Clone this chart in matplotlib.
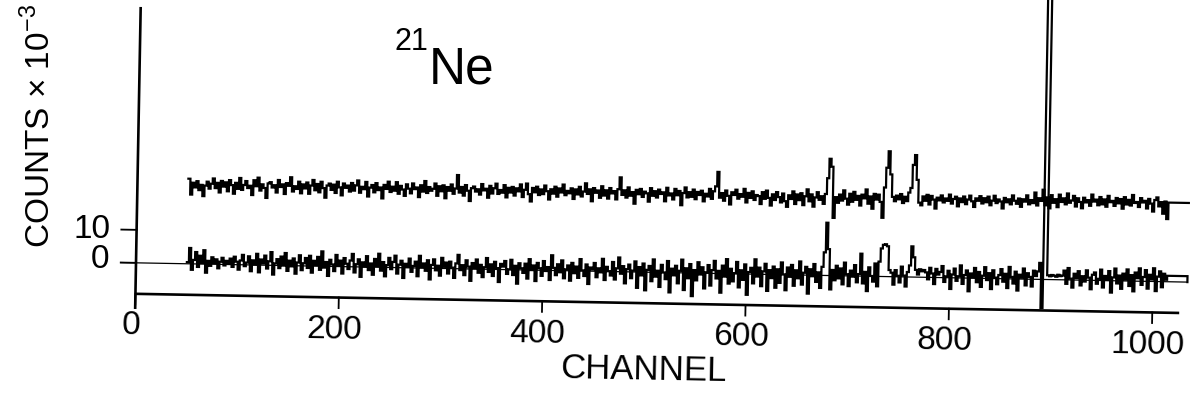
import numpy as np
import matplotlib
matplotlib.use("Agg")
import matplotlib.pyplot as plt
from matplotlib import transforms as mtransforms

plt.rcParams['font.family'] = ['Liberation Sans', 'DejaVu Sans']
plt.rcParams['mathtext.fontset'] = 'custom'
plt.rcParams['mathtext.rm'] = 'Liberation Sans'

# ---- spectrum data (counts x 10^-3, two channels per bin) ----
first_channel = 50
channel_step = 2

upper_counts = [
    25.8, 21.0, 24.6, 23.2, 25.1, 22.4, 24.0, 20.6, 23.8, 25.0,
    22.9, 24.4, 26.0, 23.1, 24.7, 21.8, 25.3, 23.6, 24.9, 22.2,
    25.6, 24.1, 21.5, 24.8, 23.0, 26.3, 22.7, 24.2, 25.4, 23.3,
    24.0, 21.2, 25.7, 23.9, 26.5, 22.6, 24.5, 23.4, 20.4, 24.8,
    25.2, 23.6, 24.3, 22.1, 25.9, 23.8, 24.6, 21.7, 25.0, 24.2,
    26.8, 22.5, 24.1, 23.3, 25.5, 22.0, 24.7, 23.5, 25.3, 21.9,
    24.4, 26.1, 23.0, 24.9, 22.4, 25.6, 23.7, 20.8, 24.5, 25.1,
    23.2, 24.8, 22.3, 25.7, 24.0, 21.6, 25.2, 23.9, 24.6, 22.8,
    25.4, 23.1, 24.7, 26.2, 22.5, 24.3, 23.6, 25.8, 21.4, 24.1,
    24.9, 22.7, 25.5, 23.4, 24.2, 20.9, 25.0, 23.8, 26.0, 22.9,
    24.5, 23.3, 25.9, 22.4, 24.8, 23.7, 21.8, 25.3, 24.0, 22.6,
    25.6, 23.9, 24.4, 21.5, 25.1, 23.2, 26.4, 22.8, 24.6, 23.5,
    24.1, 25.7, 22.0, 24.9, 23.4, 25.2, 21.3, 24.7, 23.6, 25.5,
    22.7, 24.3, 28.4, 23.1, 24.8, 22.2, 25.4, 23.7, 20.6, 24.5,
    25.0, 23.5, 24.2, 22.6, 25.8, 23.9, 24.4, 21.7, 25.3, 23.0,
    24.6, 26.0, 22.9, 24.1, 23.3, 25.6, 21.9, 24.8, 23.4, 25.1,
    22.5, 24.7, 23.8, 25.9, 22.1, 24.3, 26.2, 23.0, 20.8, 24.9,
    23.6, 25.3, 22.8, 24.5, 23.1, 25.7, 24.0, 21.5, 24.6, 23.3,
    25.4, 22.4, 24.9, 23.7, 26.1, 22.9, 24.2, 23.5, 25.0, 21.8,
    24.7, 23.2, 25.5, 22.6, 24.1, 26.6, 23.4, 24.8, 21.2, 25.2,
    23.8, 24.5, 22.3, 25.8, 23.0, 24.6, 22.1, 25.3, 23.7, 24.4,
    21.9, 25.0, 28.6, 23.3, 24.7, 22.5, 25.6, 23.1, 24.2, 20.7,
    24.9, 23.6, 25.2, 22.8, 24.4, 23.9, 21.4, 25.5, 23.2, 24.6,
    22.7, 25.1, 23.8, 24.3, 21.6, 25.7, 23.4, 24.0, 22.2, 25.4,
    23.5, 24.8, 20.5, 24.2, 25.9, 22.9, 24.5, 23.1, 25.3, 22.4,
    24.6, 23.7, 25.0, 21.8, 24.1, 23.3, 25.6, 22.6, 24.9, 26.4,
    30.8, 23.0, 24.4, 22.1, 25.2, 23.6, 21.0, 24.7, 23.9, 25.5,
    22.8, 24.2, 23.4, 25.8, 21.7, 24.6, 23.1, 25.1, 22.5, 24.0,
    23.7, 21.3, 24.9, 22.9, 25.4, 23.2, 20.9, 24.3, 22.6, 25.0,
    23.5, 21.9, 24.6, 22.3, 20.6, 24.1, 23.0, 25.3, 21.5, 24.4,
    22.7, 24.8, 21.2, 23.9, 26.0, 22.4, 24.5, 20.8, 23.6, 25.2,
    22.9, 24.0, 21.7, 24.7, 29.5, 35.4, 33.0, 17.5, 23.8, 22.1,
    24.6, 22.8, 25.9, 23.4, 21.6, 24.9, 22.5, 25.5, 23.1, 24.3,
    21.4, 24.7, 23.6, 26.3, 22.0, 24.2, 20.5, 25.0, 23.3, 24.8,
    22.6, 17.8, 27.0, 33.0, 38.0, 31.0, 24.2, 22.9, 24.6, 23.5,
    25.1, 22.4, 24.3, 23.0, 25.6, 27.0, 34.0, 37.0, 29.5, 22.6,
    21.8, 24.5, 23.2, 25.0, 22.1, 24.7, 23.6, 20.9, 24.2, 23.4,
    24.9, 22.8, 24.0, 23.3, 25.2, 22.5, 23.9, 24.6, 21.7, 24.1,
    23.0, 24.7, 22.4, 23.8, 25.0, 23.3, 21.6, 24.2, 23.5, 24.9,
    22.7, 24.3, 23.1, 24.8, 22.2, 23.6, 25.1, 22.9, 24.0, 23.4,
    21.3, 24.5, 23.2, 24.1, 22.6, 25.3, 23.7, 22.8, 24.4, 21.9,
    24.2, 23.5, 25.4, 22.7, 24.0, 23.1, 26.3, 22.4, 24.6, 23.8,
    27.2, 22.5, 24.9, 21.6, 25.6, 23.3, 24.4, 22.0, 25.8, 23.6,
    24.7, 22.9, 26.2, 23.4, 24.1, 25.5, 22.3, 24.8, 23.7, 21.8,
    25.0, 23.6, 24.3, 22.6, 26.0, 23.9, 24.5, 22.8, 25.3, 23.1,
    24.6, 22.4, 25.7, 23.8, 24.2, 22.7, 25.1, 23.5, 24.8, 21.9,
    25.4, 23.2, 24.6, 22.9, 26.1, 23.7, 24.0, 22.5, 25.2, 23.9,
    24.4, 22.1, 25.0, 23.6, 21.2, 24.7, 25.5, 22.8, 24.1, 20.6,
    24.3, 19.0, 24.0, 24.0, 24.0, 24.0, 24.0, 24.0, 24.0, 24.0,
    24.0, 24.0, 24.0,
]

lower_counts = [
    0.5, 4.8, -1.8, 1.2, 3.6, -0.9, 2.5, 0.3, 4.2, -2.6,
    1.0, -0.5, 2.1, 0.4, 1.5, -1.2, 0.8, 2.0, -0.3, 1.1,
    0.2, 1.8, -0.7, 2.4, 0.9, -1.5, 1.3, 3.0, -0.4, 0.7,
    2.6, -1.9, 1.4, 0.1, 3.4, -2.2, 1.7, 0.5, 2.9, -1.0,
    1.2, 4.0, -2.8, 0.6, 1.9, -0.8, 2.7, 0.0, 3.8, -1.6,
    1.5, -0.2, 2.2, -2.4, 1.0, 3.2, -1.3, 0.8, 2.4, -0.6,
    3.1, -2.0, 1.6, 0.3, 2.8, -1.1, 4.5, -0.4, 1.3, -2.9,
    2.0, 0.6, -1.4, 3.5, 0.2, 1.8, -2.1, 2.6, 0.9, -0.7,
    1.9, 3.9, -1.7, 0.8, 2.3, -3.0, 1.4, 0.1, 3.3, -0.9,
    1.1, -2.3, 2.5, 0.4, 4.1, -1.0, 1.6, -2.7, 0.7, 2.9,
    -0.5, 1.7, 3.6, -1.8, 0.9, 2.1, -3.1, 1.2, 0.3, 2.8,
    -1.2, 0.6, 1.9, -2.5, 3.7, 0.2, 1.4, -0.8, 2.4, -3.4,
    1.0, 2.7, -0.6, 0.8, -2.2, 3.2, 0.5, 1.8, -1.5, 2.1,
    0.3, -2.8, 1.6, 4.2, -0.4, 1.1, -1.9, 2.6, 0.7, -3.6,
    1.8, 0.2, 2.9, -1.1, 1.3, -2.4, 0.6, 3.4, -0.8, 1.5,
    -2.0, 2.3, 0.4, -3.8, 1.7, 0.9, 2.6, -1.3, 0.1, 3.0,
    -1.6, 1.2, -4.2, 2.0, 0.5, -0.9, 1.9, -2.6, 3.3, 0.0,
    1.4, -3.3, 2.2, 0.6, -1.7, 2.8, -0.2, 1.0, -2.9, 4.6,
    0.8, -1.4, 1.9, -0.5, 3.1, -2.3, 0.4, 1.6, -3.0, 2.4,
    -0.7, 1.3, -2.1, 3.6, 0.2, -1.5, 2.0, -3.9, 1.1, 0.5,
    2.5, -1.8, 0.9, -0.3, 3.8, -2.6, 1.4, 0.1, -1.2, 2.9,
    -2.4, 1.0, 4.3, -0.6, 1.7, -3.5, 0.8, 2.2, -1.9, 0.4,
    3.2, -4.8, 1.5, -1.0, 2.6, -5.5, 0.7, 1.9, -2.7, 3.9,
    -1.3, 0.5, -4.4, 2.3, 0.0, -2.0, 3.5, -6.0, 1.2, -0.8,
    2.1, -3.2, 0.6, 4.0, -5.2, 1.4, -1.6, 2.7, -7.0, 0.9,
    -2.2, 3.3, -0.4, 1.8, -4.6, 0.3, 2.5, -3.7, 1.0, 3.8,
    -1.5, 0.8, -5.8, 2.4, -0.9, 4.4, -3.0, 1.5, -2.3, 0.2,
    3.6, -4.1, 1.1, -1.8, 2.9, -6.3, 0.6, 1.9, -2.8, 4.5,
    -0.7, 2.0, -3.6, 0.9, 3.2, -5.0, 1.3, -1.1, 2.4, -4.0,
    1.6, -2.5, 3.7, 0.1, -4.7, 2.2, -0.6, 3.0, -3.3, 1.4,
    -1.0, 4.1, -2.9, 0.7, 2.5, -5.6, 1.8, -0.3, 3.4, -2.0,
    0.9, -3.8, 2.6, 7.0, 16.0, 8.0, -4.2, 1.7, -1.4, 3.0,
    -0.8, 2.2, -2.6, 4.0, 0.5, -3.1, 1.6, -0.2, 3.3, -1.9,
    0.6, 6.8, -2.2, 1.3, -4.5, 2.7, 0.1, -1.6, 3.9, -3.0,
    4.5, 8.5, 9.6, 9.8, 9.2, 2.0, 1.2, -2.4, 2.0, 0.3,
    -1.7, 3.1, 0.4, -2.9, 1.5, 3.5, 9.3, 6.0, 2.2, 0.8,
    2.4, 1.8, 2.2, 1.5, -0.6, 2.9, 1.2, -2.0, 2.6, 0.9,
    1.7, 3.5, -1.3, 0.4, 2.1, -3.4, 1.0, 2.8, -0.9, 0.5,
    3.8, -1.8, 0.9, 2.3, -4.0, 1.4, 0.2, 3.1, -1.2, 1.9,
    -2.6, 0.8, 3.4, -0.5, 1.6, -3.2, 2.5, 0.3, -1.7, 1.1,
    2.9, -0.9, 1.5, -2.8, 3.6, 0.6, -1.4, 2.2, -3.5, 1.3,
    0.4, 3.2, -1.9, 1.8, 0.7, -2.2, 2.6, 1.0, 2.4, 5.0,
    -9.0, 400.0, 400.0, 1.3, 1.0, 1.4, 1.2, 0.9, 1.5, 1.1,
    1.3, 2.8, -1.2, 3.6, 0.4, -2.3, 1.9, 0.6, 2.7, -1.6,
    1.2, -0.4, 3.0, 0.8, -2.7, 1.7, 2.4, -1.0, 0.5, 3.3,
    -2.1, 1.4, 0.2, 2.9, -3.6, 1.0, 3.7, -0.8, 1.6, -2.4,
    2.2, 0.4, 3.5, -1.5, 1.8, -3.1, 2.6, 0.9, 3.9, -1.1,
    1.3, 3.4, -2.2, 2.0, 0.6, 4.0, -2.9, 1.5, 3.1, -1.7,
    2.4, 0.6, 1.8, 1.8, 1.8, 1.8, 1.8, 1.8, 1.8, 1.8,
    1.8, 1.8, 0.0,
]

x_ticks = [0, 200, 400, 600, 800, 1000]
y_ticks = [0, 10]

# ---- layout constants ----
W, H, DPI = 1190, 414, 100
x_min, x_max = 0, 1036
y_min, y_max = -14.0, 80.0
x_axis_level = -9.4
x_axis_end = 1026.5
y_axis_top = 77.6
tilt_deg = -1.05

fig = plt.figure(figsize=(W / DPI, H / DPI), dpi=DPI)
ax = fig.add_axes([136 / W, 104 / H, 1053.6 / W, 310 / H])
ax.set_xlim(x_min, x_max)
ax.set_ylim(y_min, y_max)
ax.axis('off')

# the whole chart sheet sits slightly skewed on the page
tr = ax.transData + mtransforms.Affine2D().rotate_deg_around(136, 150, tilt_deg)

channels = first_channel + channel_step * np.arange(len(upper_counts))

ax.step(channels, upper_counts, where='post', color='black', lw=1.6,
        transform=tr, solid_joinstyle='miter')
ax.step(channels, lower_counts, where='post', color='black', lw=1.6,
        transform=tr, solid_joinstyle='miter')

# baseline of the lower spectrum
ax.plot([-15, 1034], [0, 0], color='black', lw=0.9, transform=tr, clip_on=False)

# axis lines
ax.plot([0, 0], [y_min, y_axis_top], color='black', lw=1.9, transform=tr,
        clip_on=False, solid_capstyle='butt')
ax.plot([0, x_axis_end], [x_axis_level, x_axis_level], color='black', lw=1.9,
        transform=tr, clip_on=False, solid_capstyle='butt')

# ticks and tick labels
for t in x_ticks:
    ax.plot([t, t], [x_axis_level, x_axis_level - 3.2], color='black', lw=1.3,
            transform=tr, clip_on=False)
    ax.text(t - 4, -14.2, str(t), transform=tr, ha='center', va='top', fontsize=24,
            rotation=tilt_deg, rotation_mode='anchor', clip_on=False)

for t in y_ticks:
    ax.plot([-15, 0], [t, t], color='black', lw=1.3, transform=tr, clip_on=False)
ax.text(-26, 10.3, '10', transform=tr, ha='right', va='center', fontsize=24, clip_on=False)
ax.text(-26, 1.2, '0', transform=tr, ha='right', va='center', fontsize=24, clip_on=False)

ax.text(501, -29.5, 'CHANNEL', transform=tr, ha='center', va='center', fontsize=25,
        rotation=tilt_deg, rotation_mode='anchor', clip_on=False)

fig.text(40 / W, 1 - 126 / H, r'COUNTS $\times$ 10$^{-3}$', rotation=90,
         ha='center', va='center', fontsize=24)

fig.text(395 / W, 1 - 50 / H, '21', ha='left', va='baseline', fontsize=22)
fig.text(429 / W, 1 - 83 / H, 'Ne', ha='left', va='baseline', fontsize=37)

fig.savefig('out.png', dpi=DPI, facecolor='white')
